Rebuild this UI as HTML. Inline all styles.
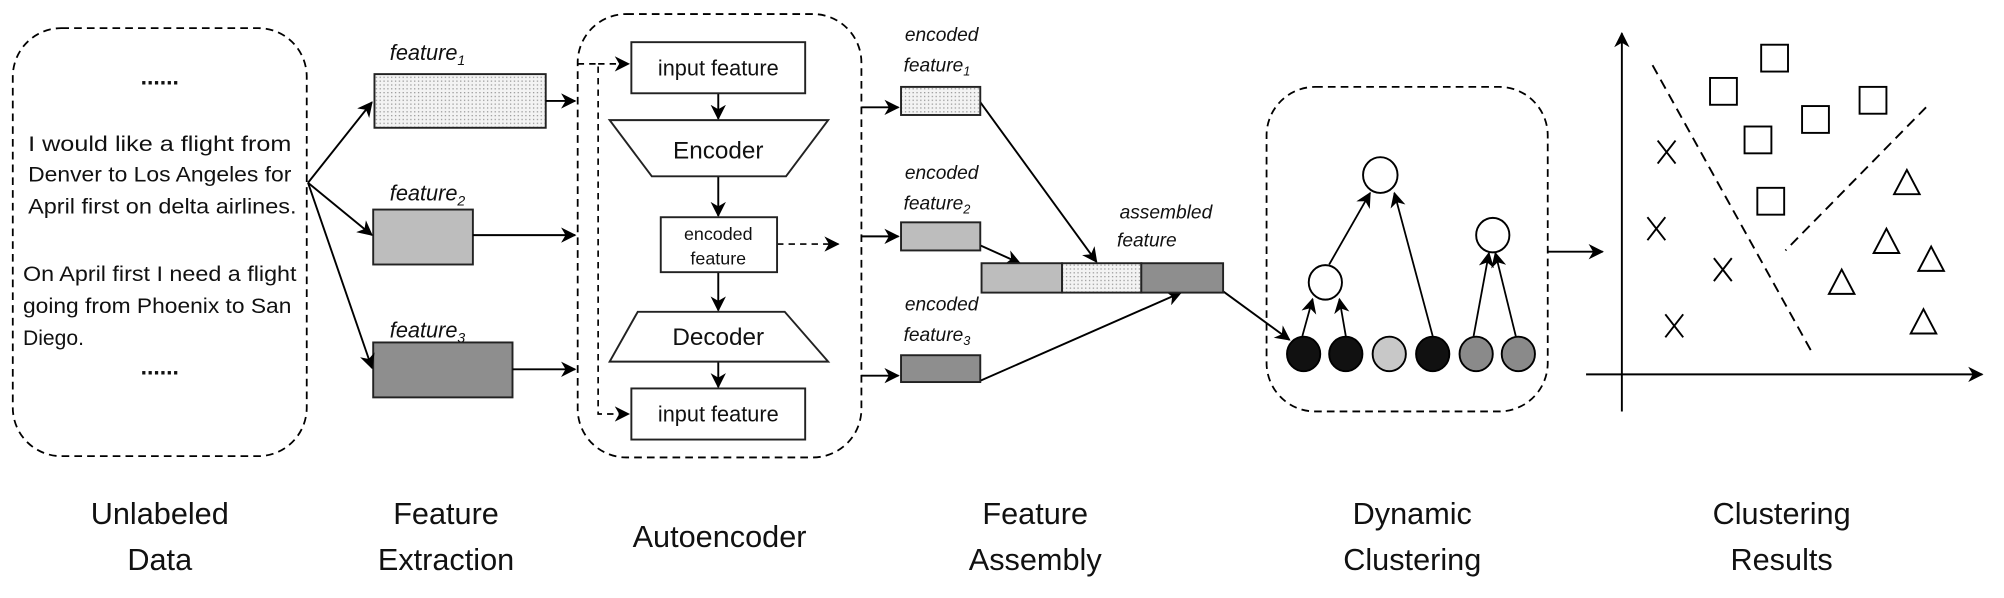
<!DOCTYPE html>
<html><head><meta charset="utf-8"><style>html,body{margin:0;padding:0;background:#fff}svg{display:block}</style></head>
<body>
<svg width="2004" height="598" viewBox="0 0 1568 468" preserveAspectRatio="none" xmlns="http://www.w3.org/2000/svg" font-family="Liberation Sans, sans-serif">
<defs>
<marker id="a" markerWidth="12" markerHeight="12" refX="11" refY="6" orient="auto" markerUnits="userSpaceOnUse"><path d="M0,0 L12,6 L0,12 L3.5,6 Z" fill="#000"/></marker>
<pattern id="dots" width="3" height="3" patternUnits="userSpaceOnUse"><rect width="3" height="3" fill="#f3f3f3"/><rect width="1" height="1" fill="#999"/></pattern>
</defs>
<g fill="none" stroke="#000" stroke-width="1.4" stroke-dasharray="6,4">
<rect x="10" y="22" width="230" height="335" rx="38"/>
<rect x="452" y="11" width="222" height="347" rx="38"/>
<rect x="991" y="68" width="220" height="254" rx="38"/>
</g>
<g font-size="16.5" fill="#111">
<text x="125" y="66" text-anchor="middle" font-weight="bold" font-size="18">......</text>
<text x="125" y="293" text-anchor="middle" font-weight="bold" font-size="18">......</text>
<text x="22" y="118" textLength="206" lengthAdjust="spacingAndGlyphs">I would like a flight from</text>
<text x="22" y="142" textLength="206" lengthAdjust="spacingAndGlyphs">Denver to Los Angeles for</text>
<text x="22" y="167" textLength="210" lengthAdjust="spacingAndGlyphs">April first on delta airlines.</text>
<text x="18" y="220" textLength="214" lengthAdjust="spacingAndGlyphs">On April first I need a flight</text>
<text x="18" y="245" textLength="210" lengthAdjust="spacingAndGlyphs">going from Phoenix to San</text>
<text x="18" y="270">Diego.</text>
</g>
<g font-size="17" font-style="italic" fill="#111">
<text x="305" y="47">feature<tspan font-size="11" dy="4">1</tspan></text>
<text x="305" y="157">feature<tspan font-size="11" dy="4">2</tspan></text>
<text x="305" y="264">feature<tspan font-size="11" dy="4">3</tspan></text>
</g>
<g stroke="#222" stroke-width="1.5">
<rect x="293" y="58" width="134" height="42" fill="url(#dots)"/>
<rect x="292" y="164" width="78" height="43" fill="#bdbdbd"/>
<rect x="292" y="268" width="109" height="43" fill="#8e8e8e"/>
</g>
<g stroke="#000" stroke-width="1.5" fill="none" marker-end="url(#a)">
<line x1="241" y1="143" x2="291" y2="80"/>
<line x1="241" y1="143" x2="291" y2="184"/>
<line x1="241" y1="143" x2="291" y2="288"/>
<line x1="427" y1="79" x2="450" y2="79"/>
<line x1="370" y1="184" x2="450" y2="184"/>
<line x1="401" y1="289" x2="450" y2="289"/>
<line x1="562" y1="73" x2="562" y2="93"/>
<line x1="562" y1="138" x2="562" y2="169"/>
<line x1="562" y1="213" x2="562" y2="243"/>
<line x1="562" y1="283" x2="562" y2="303"/>
<line x1="674" y1="84" x2="703" y2="84"/>
<line x1="674" y1="185" x2="703" y2="185"/>
<line x1="674" y1="294" x2="703" y2="294"/>
<line x1="767" y1="80" x2="858" y2="205"/>
<line x1="767" y1="192" x2="798" y2="206"/>
<line x1="767" y1="298" x2="924" y2="229"/>
<line x1="957" y1="228" x2="1009" y2="266"/>
<line x1="1211" y1="197" x2="1254" y2="197"/>
</g>
<g stroke="#000" stroke-width="1.3" fill="none" stroke-dasharray="5,4">
<polyline points="452,50 468,50 468,324 492,324" marker-end="url(#a)"/>
<line x1="468" y1="50" x2="492" y2="50" marker-end="url(#a)"/>
<line x1="608" y1="191" x2="656" y2="191" marker-end="url(#a)"/>
</g>
<g stroke="#222" stroke-width="1.5" fill="#fff">
<rect x="494" y="33" width="136" height="40"/>
<polygon points="477,94 648,94 615,138 510,138"/>
<rect x="517" y="170" width="91" height="43"/>
<polygon points="499,244 614,244 648,283 477,283"/>
<rect x="494" y="304" width="136" height="40"/>
</g>
<g font-size="17" text-anchor="middle" fill="#111">
<text x="562" y="59">input feature</text>
<text x="562" y="124" font-size="19">Encoder</text>
<text x="562" y="188" font-size="14">encoded</text>
<text x="562" y="207" font-size="14">feature</text>
<text x="562" y="270" font-size="19">Decoder</text>
<text x="562" y="330">input feature</text>
</g>
<g font-size="15" font-style="italic" fill="#111">
<text x="708" y="32">encoded</text><text x="707" y="56">feature<tspan font-size="10" dy="3">1</tspan></text>
<text x="708" y="140">encoded</text><text x="707" y="164">feature<tspan font-size="10" dy="3">2</tspan></text>
<text x="708" y="243">encoded</text><text x="707" y="267">feature<tspan font-size="10" dy="3">3</tspan></text>
<text x="876" y="171">assembled</text><text x="874" y="193">feature</text>
</g>
<g stroke="#222" stroke-width="1.5">
<rect x="705" y="68" width="62" height="22" fill="url(#dots)"/>
<rect x="705" y="174" width="62" height="22" fill="#bdbdbd"/>
<rect x="705" y="278" width="62" height="21" fill="#8e8e8e"/>
<rect x="768" y="206" width="63" height="23" fill="#bdbdbd"/>
<rect x="831" y="206" width="62" height="23" fill="url(#dots)"/>
<rect x="893" y="206" width="64" height="23" fill="#8e8e8e"/>
</g>
<g stroke="#000" stroke-width="1.4" marker-end="url(#a)" fill="none">
<line x1="1019" y1="263" x2="1027" y2="234"/>
<line x1="1053" y1="263" x2="1048" y2="234"/>
<line x1="1040" y1="207" x2="1072" y2="151"/>
<line x1="1121" y1="263" x2="1091" y2="151"/>
<line x1="1153" y1="263" x2="1165" y2="198"/>
<line x1="1186" y1="263" x2="1170" y2="198"/>
</g>
<g stroke="#000" stroke-width="1.5">
<ellipse cx="1020" cy="277" rx="13" ry="13.5" fill="#111"/>
<ellipse cx="1053" cy="277" rx="13" ry="13.5" fill="#111"/>
<ellipse cx="1087" cy="277" rx="13" ry="13.5" fill="#c8c8c8"/>
<ellipse cx="1121" cy="277" rx="13" ry="13.5" fill="#111"/>
<ellipse cx="1155" cy="277" rx="13" ry="13.5" fill="#8a8a8a"/>
<ellipse cx="1188" cy="277" rx="13" ry="13.5" fill="#8a8a8a"/>
<ellipse cx="1037" cy="221" rx="13" ry="13.5" fill="#fff"/>
<ellipse cx="1080" cy="137" rx="13.5" ry="14" fill="#fff"/>
<ellipse cx="1168" cy="184" rx="13" ry="13.5" fill="#fff"/>
</g>
<g stroke="#000" stroke-width="1.5" fill="none">
<line x1="1269" y1="322" x2="1269" y2="26" marker-end="url(#a)"/>
<line x1="1241" y1="293" x2="1551" y2="293" marker-end="url(#a)"/>
<line x1="1293" y1="51" x2="1419" y2="278" stroke-dasharray="8,5"/>
<line x1="1507" y1="84" x2="1397" y2="196" stroke-dasharray="8,5"/>
<rect x="1378" y="35" width="21" height="21"/>
<rect x="1338" y="61" width="21" height="21"/>
<rect x="1455" y="68" width="21" height="21"/>
<rect x="1410" y="83" width="21" height="21"/>
<rect x="1365" y="99" width="21" height="21"/>
<rect x="1375" y="147" width="21" height="21"/>
<path d="M1297,110 L1311,128 M1311,110 L1297,128"/>
<path d="M1289,170 L1303,188 M1303,170 L1289,188"/>
<path d="M1341,202 L1355,220 M1355,202 L1341,220"/>
<path d="M1303,246 L1317,264 M1317,246 L1303,264"/>
<polygon points="1492,133 1482,152 1502,152"/>
<polygon points="1476,179 1466,198 1486,198"/>
<polygon points="1511,193 1501,212 1521,212"/>
<polygon points="1441,211 1431,230 1451,230"/>
<polygon points="1505,242 1495,261 1515,261"/>
</g>
<g font-size="24" text-anchor="middle" fill="#111">
<text x="125" y="410">Unlabeled</text><text x="125" y="446">Data</text>
<text x="349" y="410">Feature</text><text x="349" y="446">Extraction</text>
<text x="563" y="428">Autoencoder</text>
<text x="810" y="410">Feature</text><text x="810" y="446">Assembly</text>
<text x="1105" y="410">Dynamic</text><text x="1105" y="446">Clustering</text>
<text x="1394" y="410">Clustering</text><text x="1394" y="446">Results</text>
</g>
</svg>
</body></html>
